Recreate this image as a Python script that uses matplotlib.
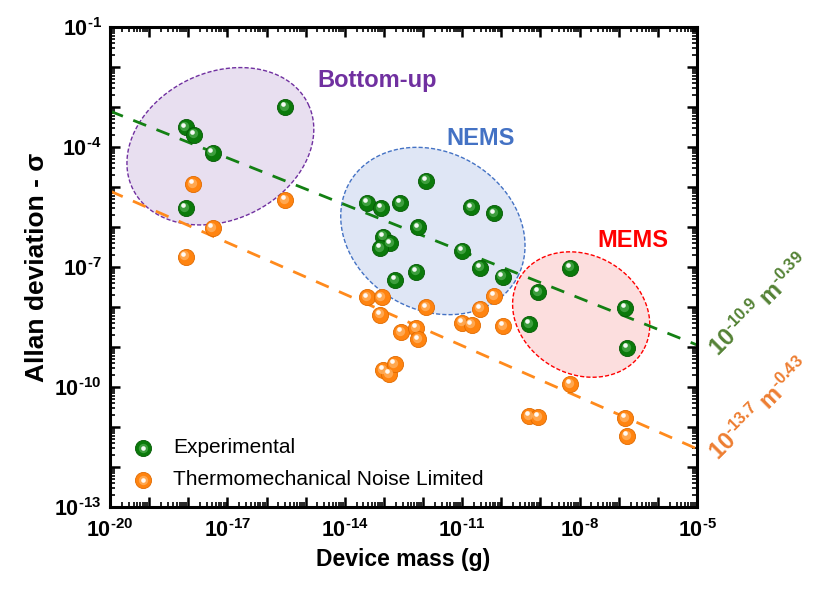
import numpy as np
import matplotlib.pyplot as plt
from matplotlib.ticker import LogLocator, NullFormatter
from matplotlib.transforms import offset_copy
from matplotlib.legend_handler import HandlerTuple

plt.rcParams['font.family'] = 'Liberation Sans'
plt.rcParams['mathtext.fontset'] = 'custom'
plt.rcParams['mathtext.rm'] = 'Liberation Sans:bold'
plt.rcParams['mathtext.bf'] = 'Liberation Sans:bold'
plt.rcParams['mathtext.it'] = 'Liberation Sans:italic'

# log10 of device mass (g) and log10 of Allan deviation
exp_logm = [-15.53, -18.07, -17.85, -17.38, -18.07,
            -11.92, -13.44, -13.07, -12.58, -10.77, -10.19, -12.12, -13.03,
            -12.84, -13.10, -11.00, -10.55, -12.17, -12.71, -9.97,
            -9.07, -9.29, -8.24, -6.84, -6.78]
exp_logs = [-3.00, -3.51, -3.69, -4.14, -5.53,
            -4.84, -5.39, -5.53, -5.40, -5.51, -5.66, -6.01, -6.24,
            -6.41, -6.53, -6.59, -7.02, -7.12, -7.33, -7.24,
            -7.63, -8.43, -7.02, -8.03, -9.03]
tn_logm = [-17.87, -15.52, -17.38, -18.07,
           -13.44, -13.06, -13.10, -11.92, -10.18, -10.55, -11.00, -10.76,
           -9.96, -12.57, -12.17, -12.12, -13.03, -12.86, -12.73,
           -8.24, -9.29, -9.06, -6.84, -6.78]
tn_logs = [-4.93, -5.33, -6.03, -6.74,
           -7.76, -7.76, -8.20, -8.01, -7.73, -8.04, -8.39, -8.44,
           -8.48, -8.63, -8.53, -8.81, -9.58, -9.68, -9.43,
           -9.93, -10.73, -10.76, -10.78, -11.23]

# fits: sigma = 10**a * m**b
exp_fit = (-10.9, -0.39)
tn_fit = (-13.7, -0.43)

# regions: name, centre (log m, log sigma), semi axes (decades), angle
regions = ['Bottom-up', 'NEMS', 'MEMS']
reg_centre = [(-17.18, -3.98), (-11.75, -6.10), (-7.96, -8.19)]
reg_axes = [(2.48, 1.85), (2.45, 1.98), (1.82, 1.49)]
reg_angle = [24, -28, -28]
reg_label_pos = [(-13.18, -2.33), (-10.52, -3.78), (-6.63, -6.35)]
reg_fill = ['#e8dff0', '#dfe6f5', '#fcdede']
reg_edge = ['#7030a0', '#4472c4', '#ff0000']

fig = plt.figure(figsize=(8.21, 5.90), dpi=100)
ax = fig.add_axes([0.134, 0.141, 0.715, 0.813])
ax.set_xscale('log')
ax.set_yscale('log')

t = np.linspace(0, 2 * np.pi, 300)
for i in range(3):
    cx, cy = reg_centre[i]
    a, b = reg_axes[i]
    th = np.radians(reg_angle[i])
    ex = cx + a * np.cos(t) * np.cos(th) - b * np.sin(t) * np.sin(th)
    ey = cy + a * np.cos(t) * np.sin(th) + b * np.sin(t) * np.cos(th)
    ax.fill(10 ** ex, 10 ** ey, facecolor=reg_fill[i], edgecolor=reg_edge[i],
            lw=1, linestyle=(0, (3, 1.5)), zorder=1)
    lx, ly = reg_label_pos[i]
    ax.text(10 ** lx, 10 ** ly, regions[i], color=reg_edge[i], fontsize=17,
            fontweight='bold', ha='center', va='center')

m = np.logspace(-20, -5, 50)
ax.plot(m, 10 ** exp_fit[0] * m ** exp_fit[1], color='#138013', lw=2,
        dashes=(5, 4), zorder=2)
ax.plot(m, 10 ** tn_fit[0] * m ** tn_fit[1], color='#ff8a1c', lw=2,
        dashes=(5, 4), zorder=2)

# shaded "ball" markers
hl1 = offset_copy(ax.transData, fig=fig, x=-1.2, y=1.5, units='dots')
hl2 = offset_copy(ax.transData, fig=fig, x=-2.2, y=2.8, units='dots')
handles = []
for lm, ls, c, edge, mid in [(exp_logm, exp_logs, '#0b7a0b', '#055a05', '#4aa84a'),
                             (tn_logm, tn_logs, '#ff8410', '#e06a00', '#ffb060')]:
    x = 10 ** np.array(lm)
    y = 10 ** np.array(ls)
    h0 = ax.scatter(x, y, s=135, color=c, edgecolors=edge, linewidths=0.6, zorder=3)
    h1 = ax.scatter(x, y, s=45, color=mid, linewidths=0, alpha=0.8, zorder=4, transform=hl1)
    h2 = ax.scatter(x, y, s=11, color='white', linewidths=0, alpha=0.95, zorder=5, transform=hl2)
    handles.append((h0, h1, h2))

ax.legend(handles, ['Experimental', 'Thermomechanical Noise Limited'],
          handler_map={tuple: HandlerTuple(ndivide=1, pad=0)},
          loc='lower left', bbox_to_anchor=(-0.012, -0.002), frameon=False,
          fontsize=15, scatterpoints=1, handletextpad=0.45, labelspacing=0.62)

ax.set_xlim(1e-20, 1e-5)
ax.set_ylim(1e-13, 1e-1)


def lab(k):
    return r'$\mathbf{10^{\text{-}%d}}$' % (-k)


xk = list(range(-20, -4))
ax.set_xticks([10.0 ** k for k in xk])
ax.set_xticklabels([lab(k) if (k + 20) % 3 == 0 else '' for k in xk])
yk = list(range(-13, 0))
ax.set_yticks([10.0 ** k for k in yk])
ax.set_yticklabels([lab(k) if (k + 13) % 3 == 0 else '' for k in yk])
ax.xaxis.set_minor_locator(LogLocator(base=10, subs=np.arange(2, 10), numticks=200))
ax.yaxis.set_minor_locator(LogLocator(base=10, subs=np.arange(2, 10), numticks=200))
ax.xaxis.set_minor_formatter(NullFormatter())
ax.yaxis.set_minor_formatter(NullFormatter())
ax.tick_params(which='both', direction='in', top=True, right=True, labelsize=15.5)
ax.tick_params(which='major', length=7, width=1.8, pad=6)
ax.tick_params(axis='x', which='major', pad=9)
ax.tick_params(which='minor', length=3.5, width=1.2)
for s in ax.spines.values():
    s.set_linewidth(2.2)

ax.set_xlabel('Device mass (g)', fontsize=16.5, fontweight='bold', labelpad=4)
ax.set_ylabel('Allan deviation - σ', fontsize=19, fontweight='bold', labelpad=4)

fig.text(760 / 821, 1 - 306 / 590, r'$\mathbf{10^{\text{-}10.9}\ m^{\text{-}0.39}}$',
         rotation=45, ha='center', va='center', color='#548235', fontsize=17)
fig.text(760 / 821, 1 - 410 / 590, r'$\mathbf{10^{\text{-}13.7}\ m^{\text{-}0.43}}$',
         rotation=45, ha='center', va='center', color='#ed7d31', fontsize=17)

fig.savefig('out.png', dpi=100)
